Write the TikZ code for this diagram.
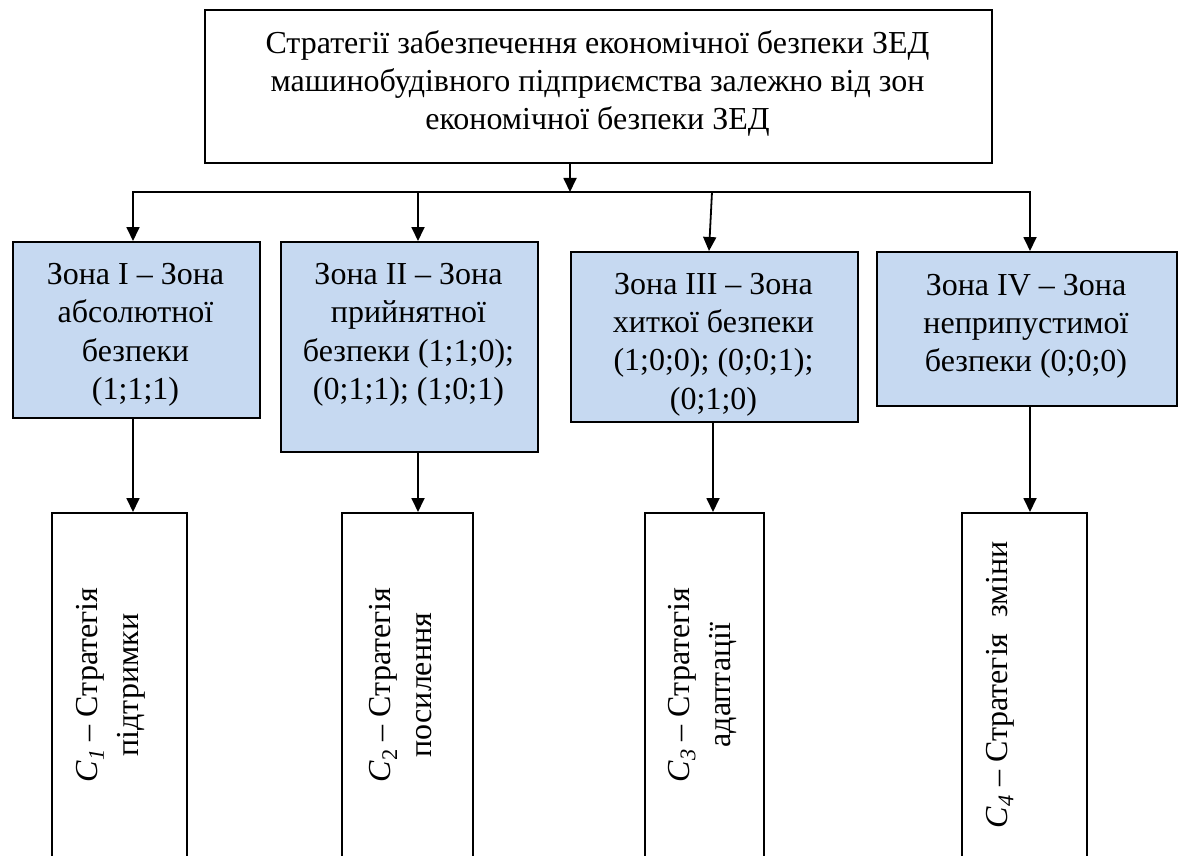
\documentclass[tikz,border=0pt]{standalone}
\usepackage{fontspec}
\setmainfont{Liberation Serif}
\usetikzlibrary{arrows.meta}
\definecolor{zblue}{HTML}{C6D9F1}
\newcommand{\fsz}{\fontsize{32}{38.4}\selectfont}
\newcommand{\fsr}{\fontsize{32}{41}\selectfont}
\begin{document}
\begin{tikzpicture}[x=1pt,y=-1pt,
  box/.style={draw=black, line width=1.8pt, inner sep=0pt, anchor=north west},
  zbox/.style={box, fill=zblue},
  wbox/.style={box, fill=white},
  txt/.style={font=\fsz, align=center, inner sep=0pt, anchor=north},
  rtxt/.style={font=\fsr, align=center, inner sep=0pt, rotate=90},
  conn/.style={line width=1.8pt},
  arr/.style={conn, -{Triangle[width=13pt,length=14pt]}}]
\useasboundingbox (0,0) rectangle (1179,856);
\clip (0,0) rectangle (1179,856);
\fill[white] (0,0) rectangle (1179,856);

% top box
\node[box, minimum width=787pt, minimum height=153pt] (top) at (204,9) {};
\node[txt] (toptxt) at (597.5,26) {\strut Стратегії забезпечення економічної безпеки ЗЕД\\машинобудівного підприємства залежно від зон\\економічної безпеки ЗЕД};

% zone boxes
\node[zbox, minimum width=247pt, minimum height=176pt] (z1) at (12,241) {};
\node[zbox, minimum width=257pt, minimum height=210pt] (z2) at (280,241) {};
\node[zbox, minimum width=287pt, minimum height=170pt] (z3) at (570,251) {};
\node[zbox, minimum width=300pt, minimum height=154pt] (z4) at (876,251) {};

\node[txt] (t1) at (135.5,257.2) {\strut Зона I – Зона\\абсолютної\\безпеки\\(1;1;1)};
\node[txt] (t2) at (408.5,257.2) {\strut Зона II – Зона\\прийнятної\\безпеки (1;1;0);\\(0;1;1); (1;0;1)};
\node[txt] (t3) at (713.5,267) {\strut Зона III – Зона\\хиткої безпеки\\(1;0;0); (0;0;1);\\(0;1;0)};
\node[txt] (t4) at (1026,268) {\strut Зона IV – Зона\\неприпустимої\\безпеки (0;0;0)};

% strategy boxes
\node[wbox, minimum width=135pt, minimum height=360pt] (w1) at (51,512) {};
\node[wbox, minimum width=131pt, minimum height=360pt] (w2) at (341,512) {};
\node[wbox, minimum width=119pt, minimum height=360pt] (w3) at (644,512) {};
\node[wbox, minimum width=125pt, minimum height=360pt] (w4) at (961,512) {};

\node[rtxt] (s1) at (111,685) {\textit{C}\textsubscript{\textit{1}} – Стратегія\\підтримки};
\node[rtxt] (s2) at (401,685) {\textit{C}\textsubscript{2} – Стратегія\\посилення};
\node[rtxt] (s3) at (702,685) {\textit{C}\textsubscript{\textit{3}} – Стратегія\\адаптації};
\node[rtxt] (s4) at (1000,685) {\textit{C}\textsubscript{\textit{4}} – Стратегія~~зміни};

% connectors
\coordinate (b0) at (570,192);
\coordinate (b1) at (133,192);
\coordinate (b2) at (418,192);
\coordinate (b3) at (712,192);
\coordinate (b4) at (1030,192);
\draw[arr] (top.south -| b0) -- (b0);
\draw[arr] (b0) -| (z1.north -| b1);
\draw[arr] (b0) -| (z4.north -| b4);
\draw[arr] (b2) -- (z2.north -| b2);
\draw[arr] (b3) -- ([xshift=-3pt]z3.north -| b3);

\draw[arr] (z1.south -| b1) -- (w1.north -| b1);
\draw[arr] (z2.south -| b2) -- (w2.north -| b2);
\draw[arr] ([xshift=1pt]z3.south -| b3) -- ([xshift=1pt]w3.north -| b3);
\draw[arr] (z4.south -| b4) -- (w4.north -| b4);
\end{tikzpicture}
\end{document}
